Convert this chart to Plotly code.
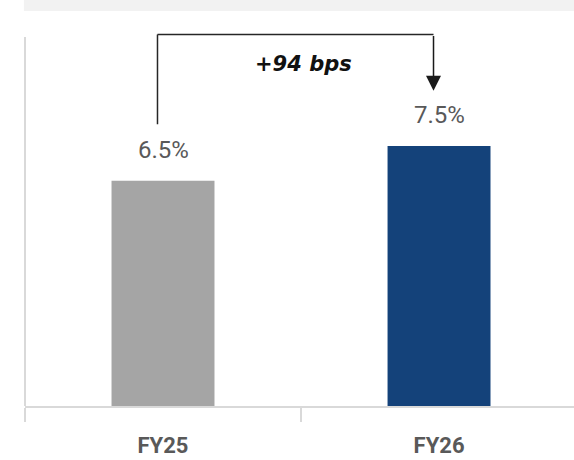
import plotly.graph_objects as go

# Data
years = ["FY25", "FY26"]
margins = [6.5, 7.5]
bar_colors = ["#a5a5a5", "#14427a"]
change_label = "+94 bps"

YMAX = 10.85
LABEL_FONT = "Roboto"

fig = go.Figure(
    go.Bar(
        x=years,
        y=margins,
        marker=dict(color=bar_colors, line=dict(width=0)),
        width=0.373,
        hoverinfo="skip",
    )
)

# Value labels above bars
for yr, v in zip(years, margins):
    fig.add_annotation(
        x=yr, y=v, text=f"{v}%", showarrow=False,
        yanchor="bottom", yshift=15,
        font=dict(family=LABEL_FONT, size=24, color="#595959"),
    )

# Bracket connecting the two bars
top = 10.72
left_x = -0.02
right_x = 0.98
line_style = dict(color="#262626", width=1.5)
fig.add_shape(type="line", x0=left_x, x1=left_x, y0=margins[0] + 1.63, y1=top,
              xref="x", yref="y", line=line_style)
fig.add_shape(type="line", x0=left_x, x1=right_x, y0=top, y1=top,
              xref="x", yref="y", line=line_style)
fig.add_annotation(
    x=right_x, y=margins[1] + 1.6, ax=right_x, ay=top,
    xref="x", yref="y", axref="x", ayref="y",
    text="", showarrow=True, arrowhead=2, arrowsize=2, arrowwidth=1.5,
    arrowcolor="#1a1a1a", standoff=0,
)
fig.add_annotation(
    x=0.51, y=9.88, text=f"<b><i>{change_label}</i></b>", showarrow=False,
    font=dict(family="DejaVu Sans", size=21, color="#111111"),
)

# Vertical axis line
fig.add_shape(type="line", xref="paper", yref="y", x0=0, x1=0, y0=0, y1=10.65,
              line=dict(color="#d9d9d9", width=2))

# Header band
fig.add_shape(type="rect", xref="paper", yref="paper", x0=-0.002, x1=1.0,
              y0=1.0505, y1=1.08, line=dict(width=0), fillcolor="#f2f2f2")

fig.update_layout(
    width=574, height=460,
    margin=dict(l=25, r=0, t=30, b=54),
    paper_bgcolor="white", plot_bgcolor="white",
    showlegend=False,
    xaxis=dict(
        type="category", range=[-0.5, 1.489],
        showline=True, linecolor="#d9d9d9", linewidth=1.5,
        ticks="outside", tickson="boundaries", ticklen=14,
        tickcolor="#d9d9d9", tickwidth=1.5,
        ticklabelstandoff=19,
        tickfont=dict(family=LABEL_FONT, size=22, color="#595959", weight="bold"),
        showgrid=False, zeroline=False, fixedrange=True,
    ),
    yaxis=dict(
        range=[0, YMAX], visible=False, showgrid=False, zeroline=False,
        fixedrange=True,
    ),
)

fig.write_html("out.html", config={"displayModeBar": False})
